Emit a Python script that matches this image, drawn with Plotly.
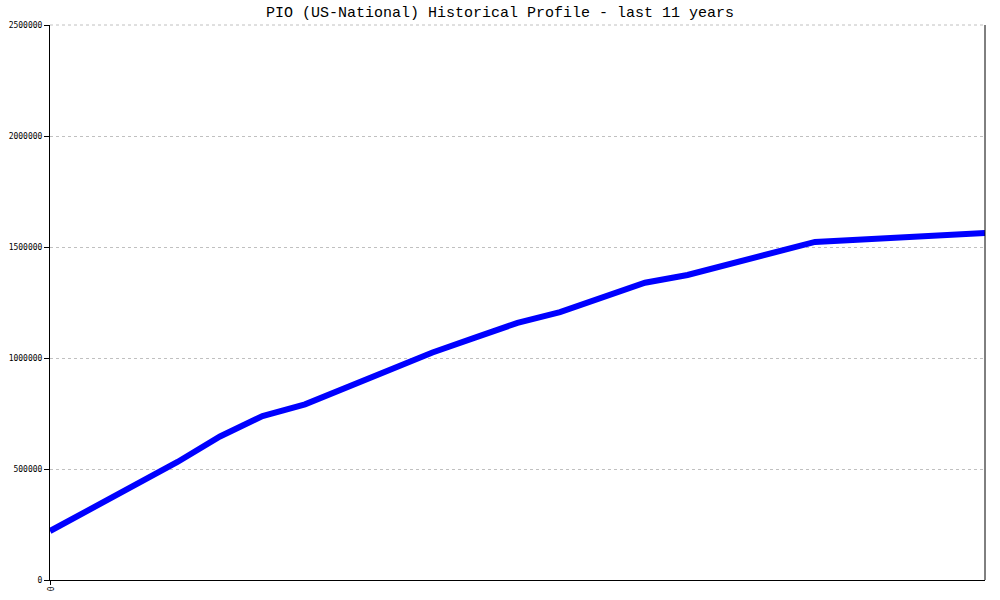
import plotly.graph_objects as go

# half-year steps over 11 years
periods = list(range(23))
values = [220700, 324300, 427900, 531500, 646400, 738700, 791000, 867000, 946000,
          1025000, 1092000, 1158000, 1207000, 1273000, 1339000, 1374000, 1425000,
          1475000, 1523000, 1533000, 1543000, 1553000, 1563000]
y_ticks = [0, 500000, 1000000, 1500000, 2000000, 2500000]
x_tick_labels = ["0"]
title_text = "PIO (US-National) Historical Profile - last 11 years"

fig = go.Figure()
fig.add_trace(go.Scatter(x=periods, y=values, mode="lines",
                         line=dict(color="#0000ff", width=6), hoverinfo="skip"))

fig.update_layout(
    width=1000, height=600,
    margin=dict(l=50, r=15, t=25, b=20, autoexpand=False),
    paper_bgcolor="white", plot_bgcolor="white",
    showlegend=False,
    xaxis=dict(range=[0, 22], tickvals=[0], ticktext=x_tick_labels, tickangle=90,
               showgrid=False, zeroline=False, showline=True, linecolor="black",
               linewidth=1, ticks="outside", ticklen=4, tickcolor="black",
               automargin=False,
               tickfont=dict(family="DejaVu Sans Mono", size=8, color="black")),
    yaxis=dict(range=[0, 2500000], tickvals=y_ticks, tickformat="d",
               showgrid=True, gridcolor="#c0c0c0", griddash="dot", gridwidth=1,
               zeroline=False, showline=True, linecolor="black", linewidth=1,
               ticks="outside", ticklen=5, tickcolor="black", automargin=False,
               tickfont=dict(family="DejaVu Sans Mono", size=8, color="black")),
    shapes=[dict(type="line", xref="paper", yref="paper", x0=1, x1=1, y0=0, y1=1,
                 line=dict(color="black", width=1)),
            dict(type="line", xref="paper", yref="paper", x0=0, x1=1, y0=1, y1=1,
                 line=dict(color="#c0c0c0", width=1, dash="dot"))],
    annotations=[dict(text=title_text, xref="paper", yref="paper", x=0.4813, y=1,
                      yshift=12, xanchor="center", yanchor="middle", showarrow=False,
                      font=dict(family="Liberation Mono", size=15, color="black"))],
)

fig.write_html("out.html", config={"displayModeBar": False},
               post_script="document.body.style.margin='0';document.body.style.padding='0';")
